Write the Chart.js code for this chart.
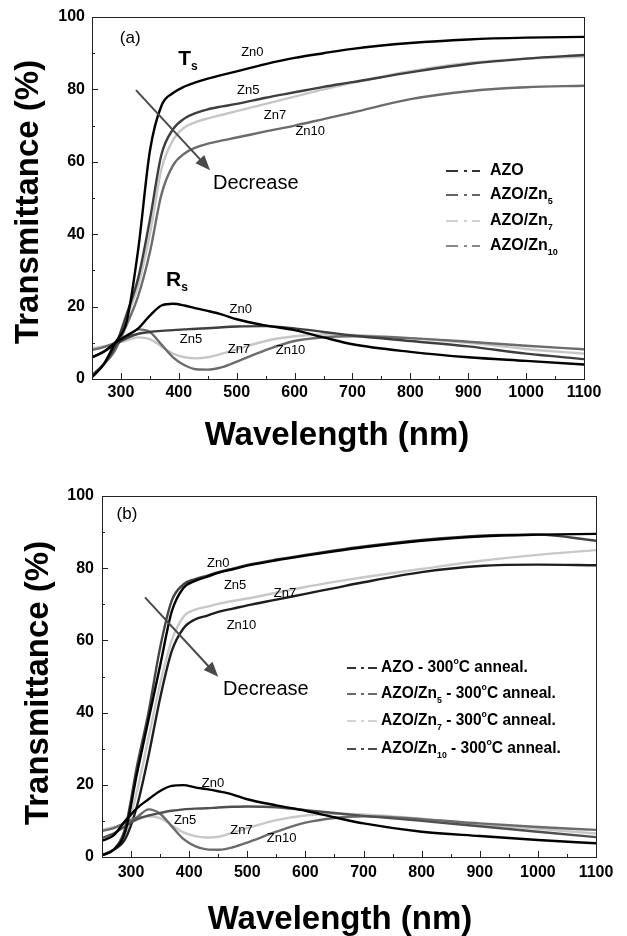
<!DOCTYPE html>
<html>
<head>
<meta charset="utf-8">
<script src="https://cdn.jsdelivr.net/npm/chart.js@4.4.1/dist/chart.umd.min.js"></script>
<style>
  body { margin: 0; background: #fff; }
  .panel { position: relative; width: 627px; height: 468px; }
</style>
</head>
<body>
<div class="panel"><canvas id="chartA" width="627" height="468"></canvas></div>
<div class="panel"><canvas id="chartB" width="627" height="468"></canvas></div>
<script>
const FONT = '"Liberation Sans", Arial, sans-serif';

// ─── Data ──────────────────────────────────────────────────
const wavelength = [250, 270, 290, 310, 330, 350, 370, 390, 410, 430, 450, 475, 500, 550, 600, 650, 700, 800, 900, 1000, 1100];
const xTicks = [300, 400, 500, 600, 700, 800, 900, 1000, 1100];
const yTicks = [0, 20, 40, 60, 80, 100];

// (a) as deposited: transmittance Ts
const tsAZO_a  = [0.5, 4, 10, 16, 36, 63, 75.5, 79, 80.8, 82, 83, 84, 85, 87, 88.7, 90, 91.2, 92.8, 93.8, 94.3, 94.5];
const tsZn5_a  = [1, 4, 9, 18, 28, 44, 62, 69, 72, 73.5, 74.5, 75.3, 76, 77.7, 79.2, 80.7, 82, 84.7, 87, 88.5, 89.5];
const tsZn7_a  = [1, 4, 9, 17, 26, 40, 58, 66, 69.5, 71, 72, 73, 74, 76, 78, 80, 81.8, 85, 87.3, 88.5, 89];
const tsZn10_a = [1, 4, 8, 15, 23, 35, 51, 59, 62.3, 64, 65, 65.9, 66.7, 68.4, 70, 71.8, 73.6, 77.3, 79.5, 80.6, 81];
// (a) reflectance Rs
const rsAZO_a  = [6, 7.5, 10, 12, 14, 17.5, 20.3, 20.8, 20.3, 19.5, 18.8, 17.8, 16.5, 14.8, 13.5, 11.5, 9.6, 7.5, 6, 5, 4];
const rsZn5_a  = [6, 7.5, 9.5, 11.3, 12.5, 13, 13.3, 13.5, 13.7, 13.9, 14, 14.3, 14.5, 14.6, 14, 13, 12, 10.5, 9, 7, 5.5];
const rsZn7_a  = [8.5, 9, 9.8, 10.7, 11.5, 11, 9, 7, 6, 5.7, 6, 7, 8.2, 10.5, 11.8, 12.3, 12.2, 11.3, 10, 8.3, 7];
const rsZn10_a = [8, 8.8, 10, 11.5, 13.7, 13, 9.5, 6, 3.8, 2.7, 2.6, 3.3, 4.8, 8, 10.5, 11.5, 11.8, 11.3, 10.3, 9.2, 8.2];

// (b) 300°C anneal: transmittance Ts
const tsAZO_b  = [0.5, 2, 7, 23, 38, 53, 68, 74.5, 76.5, 77.6, 78.7, 79.7, 80.7, 82.2, 83.5, 84.7, 85.8, 87.6, 88.8, 89.3, 89.5];
const tsZn5_b  = [0.5, 2, 8, 25, 40, 58, 71, 75.5, 77, 77.9, 78.9, 79.9, 80.9, 82.4, 83.7, 84.9, 86, 87.8, 89, 89.3, 87.6];
const tsZn7_b  = [0.5, 2, 6, 18, 33, 48, 60, 66.5, 68.5, 69.3, 70.1, 70.9, 71.6, 73.2, 74.8, 76.2, 77.5, 79.8, 82, 83.7, 85];
const tsZn10_b = [0.5, 2, 5, 14, 28, 44, 57, 63.3, 65.8, 66.8, 67.9, 68.8, 69.7, 71.3, 72.9, 74.5, 76.1, 78.9, 80.6, 81, 80.8];
// (b) reflectance Rs
const rsAZO_b  = [4.5, 6, 10, 13.5, 16, 18.3, 19.7, 19.9, 19.3, 18.8, 18.2, 17.3, 16, 14.3, 12.8, 11, 9.3, 7, 5.8, 4.7, 3.8];
const rsZn5_b  = [5.3, 6.5, 8.5, 10.5, 11.5, 12.2, 12.8, 13.2, 13.4, 13.5, 13.7, 13.9, 14, 13.8, 13, 12.2, 11.4, 10, 8.5, 7, 5.5];
const rsZn7_b  = [7.5, 8.3, 9.2, 10.2, 11.3, 10.8, 8.8, 6.8, 5.8, 5.4, 5.6, 6.8, 8, 10.2, 11.5, 12, 11.8, 10.6, 9, 7.8, 6.5];
const rsZn10_b = [7.2, 8, 9.5, 11, 13.2, 12, 8.5, 5, 3, 2.1, 2, 2.7, 4, 7, 9.5, 10.8, 11.3, 10.5, 9.3, 8.3, 7.5];

// ─── Helpers ───────────────────────────────────────────────
const pts = arr => wavelength.map((x, i) => ({ x, y: arr[i] }));

function line(ctx, x1, y1, x2, y2) {
  ctx.beginPath(); ctx.moveTo(x1, y1); ctx.lineTo(x2, y2); ctx.stroke();
}

// text with sub/superscripts; parts = [[text, 'sub'|'sup'|undefined], ...]
function drawRich(ctx, x, y, parts, size, weight, align, sx) {
  sx = sx || 1;
  ctx.save();
  ctx.textBaseline = 'middle';
  ctx.textAlign = 'left';
  const fontFor = p => `${weight} ${p[1] ? Math.round(size * 0.55) : size}px ${FONT}`;
  let total = 0;
  parts.forEach(p => { ctx.font = fontFor(p); total += ctx.measureText(p[0]).width; });
  ctx.translate(x, y);
  ctx.scale(sx, 1);
  let cx = align === 'center' ? -total / 2 : 0;
  parts.forEach(p => {
    ctx.font = fontFor(p);
    const dy = p[1] === 'sub' ? size * 0.38 : p[1] === 'sup' ? -size * 0.38 : 0;
    ctx.fillText(p[0], cx, dy);
    cx += ctx.measureText(p[0]).width;
  });
  ctx.restore();
}

// frame, inward ticks, axis titles, labels, arrow, legend
const decorPlugin = {
  id: 'decor',
  afterDraw(chart) {
    const { ctx, chartArea: a, scales: { x, y } } = chart;
    const d = chart.options.plugins.decor;
    ctx.save();
    ctx.strokeStyle = '#222';
    ctx.lineWidth = 1;
    ctx.strokeRect(Math.round(a.left) + 0.5, Math.round(a.top) + 0.5, Math.round(a.right - a.left), Math.round(a.bottom - a.top));
    for (let v = 250; v < 1100; v += 50) {
      const px = Math.round(x.getPixelForValue(v)) + 0.5;
      line(ctx, px, a.bottom, px, a.bottom - (v % 100 === 0 ? 6 : 3));
    }
    for (let v = 10; v < 100; v += 10) {
      const py = Math.round(y.getPixelForValue(v)) + 0.5;
      line(ctx, a.left, py, a.left + (v % 20 === 0 ? 6 : 3), py);
    }

    // axis titles
    ctx.fillStyle = '#000';
    ctx.font = `bold 33px ${FONT}`;
    ctx.textAlign = 'center';
    ctx.textBaseline = 'middle';
    ctx.fillText('Wavelength (nm)', d.xTitle[0], d.xTitle[1]);
    ctx.save();
    ctx.translate(d.yTitle[0], d.yTitle[1]);
    ctx.rotate(-Math.PI / 2);
    ctx.fillText('Transmittance (%)', 0, 0);
    ctx.restore();

    // in-plot labels placed in data coordinates
    d.labels.forEach(l => {
      drawRich(ctx, x.getPixelForValue(l.at[0]), y.getPixelForValue(l.at[1]), l.parts, l.size, l.weight || 'normal', l.align || 'center');
    });

    // "Decrease" arrow
    const x1 = x.getPixelForValue(d.arrow[0]), y1 = y.getPixelForValue(d.arrow[1]);
    const x2 = x.getPixelForValue(d.arrow[2]), y2 = y.getPixelForValue(d.arrow[3]);
    const ang = Math.atan2(y2 - y1, x2 - x1);
    ctx.strokeStyle = '#4a4a4a';
    ctx.fillStyle = '#4a4a4a';
    ctx.lineWidth = 2;
    line(ctx, x1, y1, x2 - 12 * Math.cos(ang), y2 - 12 * Math.sin(ang));
    ctx.beginPath();
    ctx.moveTo(x2, y2);
    ctx.lineTo(x2 - 15 * Math.cos(ang) + 6 * Math.sin(ang), y2 - 15 * Math.sin(ang) - 6 * Math.cos(ang));
    ctx.lineTo(x2 - 15 * Math.cos(ang) - 6 * Math.sin(ang), y2 - 15 * Math.sin(ang) + 6 * Math.cos(ang));
    ctx.closePath();
    ctx.fill();

    // legend with dash-dot samples
    const L = d.legend;
    L.items.forEach((it, i) => {
      const ly = L.rows[i];
      ctx.strokeStyle = it.color;
      ctx.lineWidth = 1.6;
      L.segs.forEach(s => line(ctx, L.x + s[0], ly, L.x + s[1], ly));
      ctx.fillStyle = '#000';
      drawRich(ctx, L.textX, ly, it.parts, L.size, 'bold', 'left', L.sx);
    });
    ctx.restore();
  }
};

function makePanel(id, cfg) {
  const datasets = cfg.series.map(s => ({
    data: pts(s.values),
    borderColor: s.color,
    borderWidth: 2.4,
    pointRadius: 0,
    cubicInterpolationMode: 'monotone',
    order: s.order
  }));
  return new Chart(document.getElementById(id), {
    type: 'line',
    data: { datasets },
    plugins: [decorPlugin],
    options: {
      responsive: false,
      animation: false,
      devicePixelRatio: 1,
      layout: { padding: { left: 0, top: cfg.box.top, right: 627 - cfg.box.right, bottom: 0 } },
      plugins: { legend: { display: false }, tooltip: { enabled: false }, decor: cfg.decor },
      scales: {
        x: {
          type: 'linear', min: 250, max: 1100,
          afterBuildTicks: s => { s.ticks = xTicks.map(v => ({ value: v })); },
          afterFit: s => { s.height = 468 - cfg.box.bottom; },
          grid: { display: false, drawTicks: false },
          border: { display: false },
          ticks: { color: '#000', font: { family: FONT, size: 16, weight: 'bold' }, padding: cfg.xPad, maxRotation: 0,
            callback: v => String(v) }
        },
        y: {
          min: 0, max: 100,
          afterBuildTicks: s => { s.ticks = yTicks.map(v => ({ value: v })); },
          afterFit: s => { s.width = cfg.box.left; },
          grid: { display: false, drawTicks: false },
          border: { display: false },
          ticks: { color: '#000', font: { family: FONT, size: 16, weight: 'bold' }, padding: cfg.yPad,
            callback: v => String(v) }
        }
      }
    }
  });
}

Chart.defaults.font.family = FONT;

// ─── Panel (a) ─────────────────────────────────────────────
makePanel('chartA', {
  box: { left: 92, right: 584, top: 17, bottom: 379 },
  xPad: 4, yPad: 7,
  series: [
    { values: tsZn7_a, color: '#c6c6c6', order: 4 },
    { values: rsZn7_a, color: '#c6c6c6', order: 4 },
    { values: tsZn10_a, color: '#6c6c6c', order: 3 },
    { values: rsZn10_a, color: '#6c6c6c', order: 3 },
    { values: tsZn5_a, color: '#3e3e3e', order: 2 },
    { values: rsZn5_a, color: '#3e3e3e', order: 2 },
    { values: tsAZO_a, color: '#000000', order: 1 },
    { values: rsAZO_a, color: '#000000', order: 1 }
  ],
  decor: {
    xTitle: [337, 436],
    yTitle: [29, 202],
    arrow: [326, 79.8, 454, 57.7],
    labels: [
      { at: [316, 94.2], parts: [['(a)']], size: 17 },
      { at: [399, 88.4], parts: [['T'], ['s', 'sub']], size: 21, weight: 'bold', align: 'left' },
      { at: [378, 27.3], parts: [['R'], ['s', 'sub']], size: 21, weight: 'bold', align: 'left' },
      { at: [527, 90.1], parts: [['Zn0']], size: 13 },
      { at: [520, 79.6], parts: [['Zn5']], size: 13 },
      { at: [566, 72.9], parts: [['Zn7']], size: 13 },
      { at: [627, 68.5], parts: [['Zn10']], size: 13 },
      { at: [533, 54.1], parts: [['Decrease']], size: 20 },
      { at: [507, 19.3], parts: [['Zn0']], size: 13 },
      { at: [421, 10.8], parts: [['Zn5']], size: 13 },
      { at: [504, 8.2], parts: [['Zn7']], size: 13 },
      { at: [593, 7.8], parts: [['Zn10']], size: 13 }
    ],
    legend: {
      x: 446, textX: 490, size: 16, sx: 1,
      rows: [171, 195, 221, 246],
      segs: [[0, 12], [18, 21], [26, 34]],
      items: [
        { color: '#000000', parts: [['AZO']] },
        { color: '#3e3e3e', parts: [['AZO/Zn'], ['5', 'sub']] },
        { color: '#c6c6c6', parts: [['AZO/Zn'], ['7', 'sub']] },
        { color: '#6c6c6c', parts: [['AZO/Zn'], ['10', 'sub']] }
      ]
    }
  }
});

// ─── Panel (b) ─────────────────────────────────────────────
makePanel('chartB', {
  box: { left: 102, right: 596, top: 28, bottom: 389 },
  xPad: 6, yPad: 8,
  series: [
    { values: tsZn7_b, color: '#c8c8c8', order: 4 },
    { values: rsZn7_b, color: '#c8c8c8', order: 4 },
    { values: rsZn10_b, color: '#6c6c6c', order: 3 },
    { values: tsZn10_b, color: '#1e1e1e', order: 3 },
    { values: tsZn5_b, color: '#444444', order: 2 },
    { values: rsZn5_b, color: '#505050', order: 2 },
    { values: tsAZO_b, color: '#000000', order: 1 },
    { values: rsAZO_b, color: '#000000', order: 1 }
  ],
  decor: {
    xTitle: [340, 452],
    yTitle: [39, 215],
    arrow: [324, 71.9, 450, 49.9],
    labels: [
      { at: [293, 95.0], parts: [['(b)']], size: 17 },
      { at: [450, 81.4], parts: [['Zn0']], size: 13 },
      { at: [479, 75.3], parts: [['Zn5']], size: 13 },
      { at: [565, 73.0], parts: [['Zn7']], size: 13 },
      { at: [490, 64.1], parts: [['Zn10']], size: 13 },
      { at: [532, 46.3], parts: [['Decrease']], size: 20 },
      { at: [441, 20.4], parts: [['Zn0']], size: 13 },
      { at: [393, 10.2], parts: [['Zn5']], size: 13 },
      { at: [490, 7.5], parts: [['Zn7']], size: 13 },
      { at: [559, 5.2], parts: [['Zn10']], size: 13 }
    ],
    legend: {
      x: 347, textX: 381, size: 16, sx: 0.97,
      rows: [200, 226, 253, 281],
      segs: [[0, 9], [14, 17], [21, 30]],
      items: [
        { color: '#000000', parts: [['AZO - 300'], ['o', 'sup'], ['C anneal.']] },
        { color: '#444444', parts: [['AZO/Zn'], ['5', 'sub'], [' - 300'], ['o', 'sup'], ['C anneal.']] },
        { color: '#c8c8c8', parts: [['AZO/Zn'], ['7', 'sub'], [' - 300'], ['o', 'sup'], ['C anneal.']] },
        { color: '#1e1e1e', parts: [['AZO/Zn'], ['10', 'sub'], [' - 300'], ['o', 'sup'], ['C anneal.']] }
      ]
    }
  }
});
</script>
</body>
</html>
